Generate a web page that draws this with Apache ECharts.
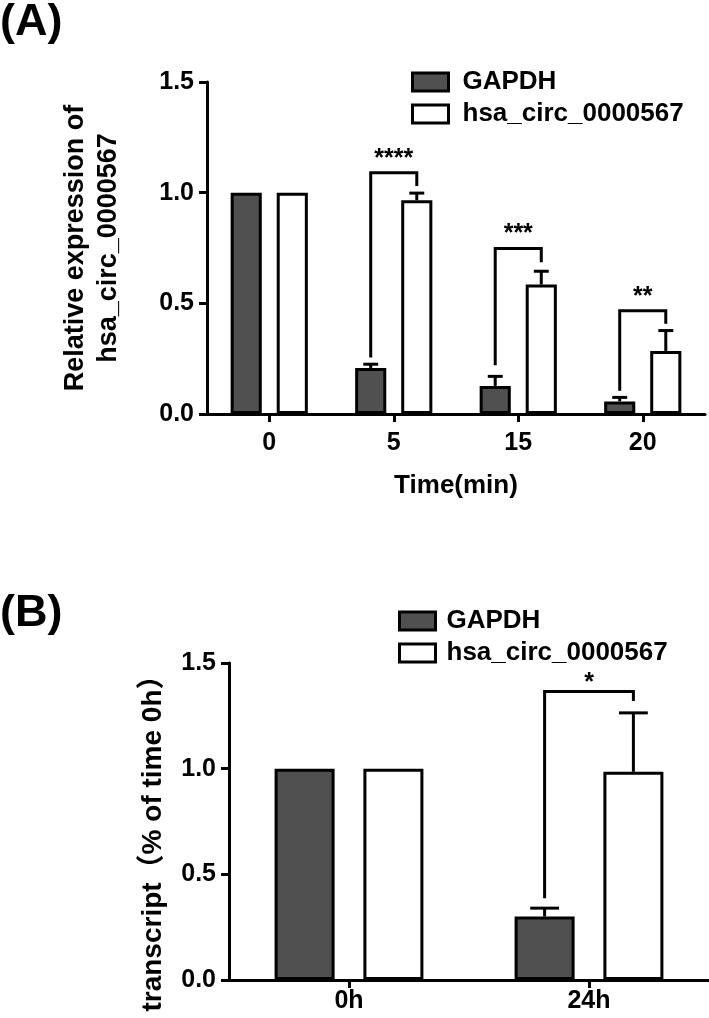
<!DOCTYPE html>
<html>
<head>
<meta charset="utf-8">
<script src="https://cdn.jsdelivr.net/npm/echarts@6/dist/echarts.min.js"></script>
<style>
html,body{margin:0;padding:0;background:#fff;}
#chart{width:709px;height:1018px;}
</style>
</head>
<body>
<div id="chart"></div>
<script>
// ---------- Panel A data ----------
const catsA = ['0', '5', '15', '20'];
const gapdhA = [1.0, 0.208, 0.127, 0.057];
const gapdhSemA = [0, 0.017, 0.043, 0.018];
const circA = [1.0, 0.966, 0.585, 0.285];
const circSemA = [0, 0.032, 0.060, 0.092];
const sigCatA = [1, 2, 3];
const sigTopA = [1.09, 0.748, 0.466];
const sigLeftA = [0.255, 0.22, 0.105];
const sigRightA = [1.03, 0.686, 0.408];
const sigStarsA = ['****', '***', '**'];
const yTicksA = [0, 0.5, 1.0, 1.5];

// ---------- Panel B data ----------
const catsB = ['0h', '24h'];
const gapdhB = [1.0, 0.30];
const gapdhSemB = [0, 0.04];
const circB = [1.0, 0.985];
const circSemB = [0, 0.279];
const sigCatB = [1];
const sigTopB = [1.365];
const sigLeftB = [0.387];
const sigRightB = [1.32];
const sigStarsB = ['*'];
const yTicksB = [0, 0.5, 1.0, 1.5];

const seriesNames = ['GAPDH', 'hsa_circ_0000567'];

// ---------- styling ----------
const FONT = "'Liberation Sans', Arial, 'Noto Sans CJK SC', sans-serif";
const DARK = '#505050';
const LW = 3;
const BAR_W = 0.25;   // fraction of band
const BAR_GAP = 0.48; // fraction of bar width
const OFF = BAR_W * (1 + BAR_GAP) / 2; // bar centre offset, fraction of band

function errData(cats, vals, sems) {
  const out = [];
  vals.forEach((v, i) => { if (sems[i] > 0) out.push([i, v, v + sems[i]]); });
  return out;
}
function sigData(cats, tops, lefts, rights) {
  return cats.map((c, i) => [c, tops[i], lefts[i], rights[i]]);
}

function errRender(sign) {
  return function (params, api) {
    const cat = api.value(0);
    const band = api.size([1, 0])[0];
    const base = api.coord([cat, api.value(1)]);
    const top = api.coord([cat, api.value(2)]);
    const x = base[0] + sign * OFF * band;
    const cap = band * BAR_W * 0.48;
    const st = { stroke: '#000', lineWidth: LW };
    return {
      type: 'group', children: [
        { type: 'line', shape: { x1: x, y1: base[1], x2: x, y2: top[1] }, style: st },
        { type: 'line', shape: { x1: x - cap / 2, y1: top[1], x2: x + cap / 2, y2: top[1] }, style: st }
      ]
    };
  };
}
function sigRender(stars, textLift) {
  return function (params, api) {
    const cat = api.value(0);
    const band = api.size([1, 0])[0];
    const c = api.coord([cat, api.value(1)]);
    const xl = c[0] - OFF * band, xr = c[0] + OFF * band;
    const yt = c[1];
    const yl = api.coord([cat, api.value(2)])[1];
    const yr = api.coord([cat, api.value(3)])[1];
    return {
      type: 'group', children: [
        { type: 'polyline', shape: { points: [[xl, yl], [xl, yt], [xr, yt], [xr, yr]] },
          style: { stroke: '#000', lineWidth: LW, fill: null } },
        { type: 'text', x: (xl + xr) / 2, y: yt - textLift,
          style: { text: stars[params.dataIndex], fontSize: 25, fontWeight: 'bold', fontFamily: FONT,
                   fill: '#000', align: 'center', verticalAlign: 'middle' } }
      ]
    };
  };
}

function barSeries(name, data, idx, fill) {
  return {
    name: name, type: 'bar', xAxisIndex: idx, yAxisIndex: idx, data: data,
    barWidth: (BAR_W * 100) + '%', barGap: (BAR_GAP * 100) + '%',
    itemStyle: { color: fill, borderColor: '#000', borderWidth: LW },
    emphasis: { disabled: true }, z: 2
  };
}

const axisLine = { show: true, lineStyle: { color: '#000', width: LW } };
const axisTick = { show: true, length: 8, lineStyle: { color: '#000', width: LW } };
const tickFont = { color: '#000', fontSize: 25, fontWeight: 'bold', fontFamily: FONT };

function yAxis(idx, ticks, name, nameGap, nameStyle) {
  return {
    type: 'value', gridIndex: idx, min: ticks[0], max: ticks[ticks.length - 1], interval: ticks[1] - ticks[0],
    axisLine: axisLine, axisTick: axisTick, splitLine: { show: false },
    axisLabel: Object.assign({ margin: 13, formatter: v => v.toFixed(1) }, tickFont),
    name: name, nameLocation: 'middle', nameRotate: 90, nameGap: nameGap, nameTextStyle: nameStyle
  };
}

const legendCommon = {
  orient: 'vertical', itemWidth: 36, itemHeight: 18, itemGap: 6, icon: 'rect',
  itemStyle: { borderColor: '#000', borderWidth: LW },
  selectedMode: false, data: seriesNames
};

const option = {
  animation: false,
  backgroundColor: '#fff',
  textStyle: { fontFamily: FONT },
  graphic: [
    { type: 'text', left: 0, top: 0, style: { text: '(A)', fontSize: 45, fontWeight: 'bold', fontFamily: FONT, fill: '#000' } },
    { type: 'text', left: 0, top: 591, style: { text: '(B)', fontSize: 45, fontWeight: 'bold', fontFamily: FONT, fill: '#000' } }
  ],
  legend: [
    Object.assign({ left: 406, top: 64, textStyle: { fontSize: 26, fontWeight: 'bold', fontFamily: FONT, color: '#000', padding: [0, 0, 0, 9] } }, legendCommon),
    Object.assign({ left: 393, top: 603, textStyle: { fontSize: 26, fontWeight: 'bold', fontFamily: FONT, color: '#000', padding: [0, 0, 0, 6] } }, legendCommon)
  ],
  grid: [
    { left: 207, top: 82, width: 498, height: 332 },
    { left: 229, top: 663, width: 482, height: 317 }
  ],
  xAxis: [
    { type: 'category', gridIndex: 0, data: catsA, axisLine: axisLine, axisTick: Object.assign({ alignWithLabel: true }, axisTick),
      axisLabel: Object.assign({ margin: 17 }, tickFont),
      name: 'Time(min)', nameLocation: 'middle', nameGap: 59,
      nameTextStyle: { color: '#000', fontSize: 26, fontWeight: 'bold', fontFamily: FONT } },
    { type: 'category', gridIndex: 1, data: catsB, axisLine: axisLine, axisTick: Object.assign({ alignWithLabel: true }, axisTick),
      axisLabel: Object.assign({ margin: 9 }, tickFont) }
  ],
  yAxis: [
    yAxis(0, yTicksA, 'Relative expression of\nhsa_circ_0000567', 82,
      { color: '#000', fontSize: 27, fontWeight: 'bold', fontFamily: FONT, lineHeight: 33 }),
    yAxis(1, yTicksB, 'transcript（% of time 0h）', 62,
      { color: '#000', fontSize: 28, fontWeight: 'bold', fontFamily: FONT, padding: [0, 30, 0, 0] })
  ],
  series: [
    barSeries(seriesNames[0], gapdhA, 0, DARK),
    barSeries(seriesNames[1], circA, 0, '#fff'),
    { type: 'custom', xAxisIndex: 0, yAxisIndex: 0, renderItem: errRender(-1), data: errData(catsA, gapdhA, gapdhSemA), z: 3, silent: true },
    { type: 'custom', xAxisIndex: 0, yAxisIndex: 0, renderItem: errRender(1), data: errData(catsA, circA, circSemA), z: 3, silent: true },
    { type: 'custom', xAxisIndex: 0, yAxisIndex: 0, renderItem: sigRender(sigStarsA, 14), data: sigData(sigCatA, sigTopA, sigLeftA, sigRightA), z: 4, silent: true },
    barSeries(seriesNames[0], gapdhB, 1, DARK),
    barSeries(seriesNames[1], circB, 1, '#fff'),
    { type: 'custom', xAxisIndex: 1, yAxisIndex: 1, renderItem: errRender(-1), data: errData(catsB, gapdhB, gapdhSemB), z: 3, silent: true },
    { type: 'custom', xAxisIndex: 1, yAxisIndex: 1, renderItem: errRender(1), data: errData(catsB, circB, circSemB), z: 3, silent: true },
    { type: 'custom', xAxisIndex: 1, yAxisIndex: 1, renderItem: sigRender(sigStarsB, 8), data: sigData(sigCatB, sigTopB, sigLeftB, sigRightB), z: 4, silent: true }
  ]
};

const chart = echarts.init(document.getElementById('chart'), null, { renderer: 'canvas' });
chart.setOption(option);
</script>
</body>
</html>
